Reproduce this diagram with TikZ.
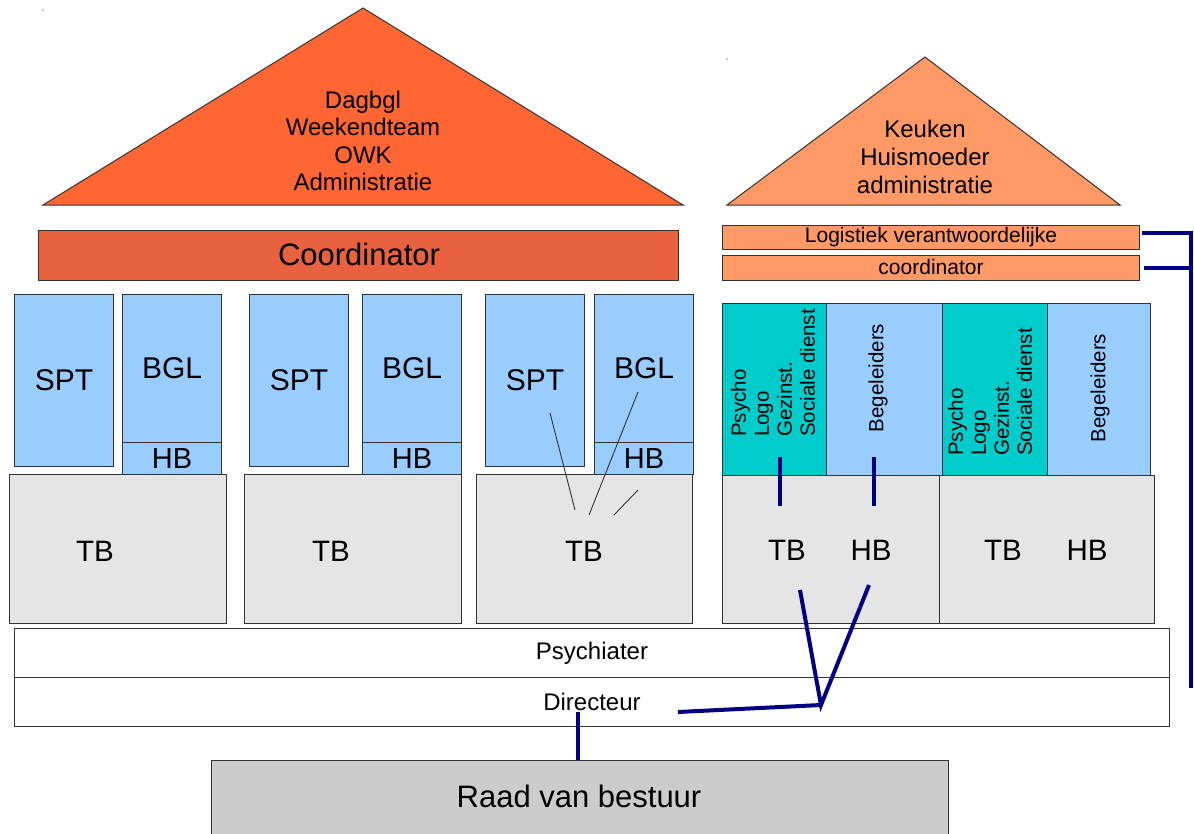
\documentclass[tikz,border=0pt]{standalone}
\usepackage{fontspec}
\setmainfont{Liberation Sans}
\definecolor{lblue}{HTML}{99CCFF}
\definecolor{tbgray}{HTML}{E6E5E6}
\definecolor{raadgray}{HTML}{CCCCCC}
\definecolor{teal2}{HTML}{00CCCC}
\definecolor{roofA}{HTML}{FF6633}
\definecolor{coordA}{HTML}{E8623F}
\definecolor{roofB}{HTML}{FF9966}
\definecolor{navyc}{HTML}{000080}
\definecolor{edge}{HTML}{333333}
\begin{document}
\begin{tikzpicture}[x=1pt,y=-1pt,
  box/.style={draw=edge, line width=1.1pt, inner sep=0pt, rectangle, anchor=north west},
  roof/.style={draw=edge, line width=1.0pt},
  big/.style={font=\fontsize{30}{34}\selectfont, inner sep=0pt},
  mid/.style={font=\fontsize{24}{27.5}\selectfont, inner sep=0pt, align=center},
  small/.style={font=\fontsize{21}{24}\selectfont, inner sep=0pt},
  rot/.style={font=\fontsize{20.5}{23}\selectfont, inner sep=0pt, rotate=90},
  navyline/.style={draw=navyc, line width=4.5pt},
  thin/.style={draw=edge, line width=0.9pt}]
\useasboundingbox (0,0) rectangle (1194,833);
% specks
\fill[black] (43,10) circle (0.7);
\fill[black] (727,59) circle (0.7);
% roofs
\draw[roof, fill=roofA] (43,205) -- (363,8) -- (683,205) -- cycle;
\node[mid] (roof1) at (363,141) {Dagbgl\\Weekendteam\\OWK\\Administratie};
\draw[roof, fill=roofB] (727,205) -- (925,57) -- (1120,205) -- cycle;
\node[mid, font=\fontsize{24}{28}\selectfont] (roof2) at (925,157) {Keuken\\Huismoeder\\administratie};
% coordinator bars
\node[box, fill=coordA, minimum width=640, minimum height=50] (coord) at (38,230) {};
\node[big, font=\fontsize{31}{34}\selectfont] at (359,254) {Coordinator};
\node[box, fill=roofB, minimum width=417, minimum height=24] (logi) at (722,225) {};
\node[small] at (931,237) {Logistiek verantwoordelijke};
\node[box, fill=roofB, minimum width=417, minimum height=25] (rcoord) at (722,255) {};
\node[small] at (931,267) {coordinator};
% left groups
\foreach \i/\sx/\bx/\tx/\tw/\tbx in {1/14/122/9/217/95, 2/249/362/244/217/331, 3/485/594/476/216/584}{
  \node[box, fill=lblue, minimum width=99, minimum height=172] (spt\i) at (\sx,294) {};
  \node[box, fill=lblue, minimum width=99, minimum height=148] (bgl\i) at (\bx,294) {};
  \node[box, fill=lblue, minimum width=99, minimum height=32] (hb\i) at (\bx,442) {};
  \node[box, fill=tbgray, minimum width=\tw, minimum height=149] (tb\i) at (\tx,474) {};
  \node[big] at (spt\i.center) {SPT};
  \node[big] at (bgl\i.center) {BGL};
  \node[big, font=\fontsize{29}{32}\selectfont] at (hb\i.center) {HB};
  \node[big, font=\fontsize{29.5}{32}\selectfont] at (\tbx,551) {TB};
}
% thin lines group 3
\coordinate (t1a) at (550,413); \coordinate (t1b) at (575,510);
\coordinate (t2a) at (638,392); \coordinate (t2b) at (589,515);
\coordinate (t3a) at (638,490); \coordinate (t3b) at (614,515);
\draw[thin] (t1a) -- (t1b);
\draw[thin] (t2a) -- (t2b);
\draw[thin] (t3a) -- (t3b);
% right columns
\node[box, fill=teal2, minimum width=104, minimum height=172] (c1) at (722,303) {};
\node[box, fill=lblue, minimum width=116, minimum height=172] (c2) at (826,303) {};
\node[box, fill=teal2, minimum width=105, minimum height=172] (c3) at (942,303) {};
\node[box, fill=lblue, minimum width=103, minimum height=172] (c4) at (1047,303) {};
\node[rot, anchor=west, align=left] (pl1) at (773,437) {Psycho\\Logo\\Gezinst.\\Sociale dienst};
\node[rot] (bg1) at (878,378) {Begeleiders};
\node[rot, anchor=west, align=left] (pl2) at (990,456) {Psycho\\Logo\\Gezinst.\\Sociale dienst};
\node[rot] (bg2) at (1100,388) {Begeleiders};
\node[box, fill=tbgray, minimum width=217, minimum height=148] (rtb1) at (722,475) {};
\node[box, fill=tbgray, minimum width=215, minimum height=148] (rtb2) at (939,475) {};
\node[big, font=\fontsize{29.5}{32}\selectfont] (tbA) at (787,550) {TB};
\node[big, font=\fontsize{29.5}{32}\selectfont] (hbA) at (871,550) {HB};
\node[big, font=\fontsize{29.5}{32}\selectfont] (tbB) at (1003,550) {TB};
\node[big, font=\fontsize{29.5}{32}\selectfont] (hbB) at (1087,550) {HB};
% psychiater / directeur
\node[box, fill=white, minimum width=1155, minimum height=49] (psy) at (14,628) {};
\node[box, fill=white, minimum width=1155, minimum height=49] (dir) at (14,677) {};
\node[mid] at (592,653) {Psychiater};
\node[mid] at (592,702) {Directeur};
% raad
\node[box, fill=raadgray, minimum width=737, minimum height=90] (raad) at (211,760) {};
\node[big, font=\fontsize{31}{34}\selectfont] at (579,796) {Raad van bestuur};
% navy connectors
\coordinate (s1a) at (780,457); \coordinate (s1b) at (780,506);
\coordinate (s2a) at (874,457); \coordinate (s2b) at (874,506);
\draw[navyline] (s1a) -- (s1b);
\draw[navyline] (s2a) -- (s2b);
\coordinate (va) at (800,590); \coordinate (vv) at (821,705); \coordinate (vb) at (869,585);
\coordinate (vl) at (678,712);
\draw[navyline, line width=4pt, line join=miter] (va) -- (vv) -- (vb);
\draw[navyline, line width=4pt] (vv) -- (vl);
\coordinate (rd) at (578,712);
\draw[navyline] (rd) -- (raad.north -| rd);
\coordinate (bk0) at (1142,233); \coordinate (bk1) at (1191,233); \coordinate (bk2) at (1191,688);
\coordinate (bk3) at (1144,268);
\draw[navyline, line width=3.5pt] (bk0) -- (bk1) -- (bk2);
\draw[navyline, line width=4.5pt] (bk3) -- (bk1 |- bk3);
\end{tikzpicture}
\end{document}
